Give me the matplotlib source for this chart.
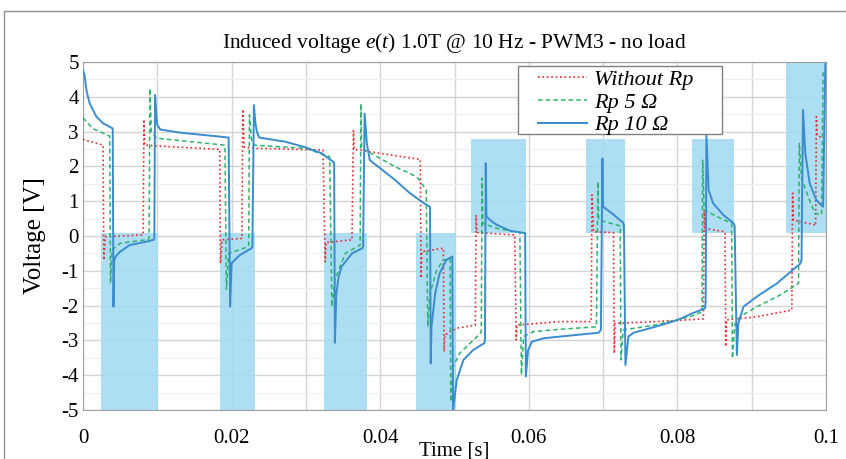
import numpy as np
import matplotlib.pyplot as plt
from matplotlib.patches import Rectangle
from matplotlib.ticker import MultipleLocator

plt.rcParams['font.family'] = ['Liberation Serif', 'DejaVu Serif']
plt.rcParams['mathtext.fontset'] = 'custom'
plt.rcParams['mathtext.rm'] = 'Liberation Serif'
plt.rcParams['mathtext.it'] = 'Liberation Serif:italic'

# time values below are in units of 10 ms, voltages in V
T_UNIT = 0.01

t_red = [0.0, 0.02, 0.27, 0.28, 0.30, 0.81, 0.82, 0.83, 1.31, 1.84, 1.85, 1.87, 2.14, 2.15, 2.17,
         2.31, 3.23, 3.26, 3.27, 3.62, 3.64, 3.65, 4.54, 4.55, 4.56, 4.85, 4.86, 4.87, 5.03, 5.28,
         5.29, 5.30, 5.81, 5.83, 5.84, 6.42, 6.84, 6.85, 6.87, 7.14, 7.15, 7.16, 7.70, 8.28, 8.35,
         8.36, 8.37, 8.64, 8.65, 8.66, 9.07, 9.54, 9.55, 9.56, 9.85, 9.86, 9.87, 9.88, 10.0]
v_red = [2.78, 2.76, 2.61, -0.69, -0.02, 0.03, 3.35, 2.61, 2.55, 2.49, -0.79, -0.11, -0.07, 3.64, 2.55,
         2.52, 2.47, -0.74, -0.19, -0.11, 3.03, 2.49, 2.20, -1.21, -0.45, -0.35, -3.32, -2.84, -2.65, -2.56,
         0.60, 0.10, 0.03, -2.99, -2.56, -2.46, -2.46, 1.18, 0.12, 0.10, -3.37, -2.51, -2.46, -2.39, -2.38,
         0.75, 0.22, 0.12, -3.18, -2.41, -2.32, -2.13, 1.23, 0.46, 0.32, 0.30, 3.43, 2.90, 2.76]

t_green = [0.0, 0.02, 0.13, 0.36, 0.37, 0.39, 0.50, 0.88, 0.89, 0.90, 0.92, 0.99, 1.91, 1.93, 1.96,
           2.22, 2.23, 2.24, 2.27, 2.31, 2.99, 3.32, 3.35, 3.39, 3.53, 3.73, 3.74, 3.75, 3.84, 4.20,
           4.40, 4.51, 4.54, 4.62, 4.64, 4.67, 4.76, 4.85, 4.94, 4.95, 4.98, 5.07, 5.21, 5.34, 5.36,
           5.37, 5.38, 5.57, 5.88, 5.90, 5.93, 6.06, 6.42, 6.91, 6.93, 6.94, 7.23, 7.24, 7.27, 7.70,
           8.06, 8.17, 8.33, 8.34, 8.36, 8.53, 8.73, 8.74, 8.77, 8.84, 9.07, 9.38, 9.63, 9.64, 9.67,
           9.76, 9.85, 9.94, 9.96, 10.0]
v_green = [3.40, 3.35, 3.09, 2.87, -1.36, -0.40, -0.21, -0.10, -0.05, 4.24, 3.00, 2.81, 2.61, -1.53, -0.50,
           -0.31, -0.25, 3.48, 2.71, 2.61, 2.52, 2.28, -2.03, -1.26, -0.50, -0.26, 3.81, 2.52, 2.42, 1.99,
           1.80, 1.66, 1.56, 1.32, -2.61, -1.65, -0.98, -0.69, -0.65, -4.76, -3.76, -3.37, -3.08, -2.82, -2.75,
           1.66, 0.36, 0.22, 0.10, -3.99, -2.89, -2.75, -2.68, -2.61, 1.56, 0.46, 0.29, -3.56, -2.70, -2.56,
           -2.37, -2.32, -2.18, 2.18, 0.75, 0.56, 0.36, -3.52, -2.56, -2.32, -2.03, -1.70, -1.36, 2.66, 1.66,
           1.13, 0.65, 0.62, 4.68, 4.70]

t_blue = [0.0, 0.02, 0.05, 0.09, 0.18, 0.27, 0.40, 0.41, 0.42, 0.45, 0.50, 0.63, 0.86, 0.95, 0.96,
          0.97, 0.99, 1.00, 1.04, 1.31, 1.96, 1.98, 2.00, 2.11, 2.27, 2.28, 2.30, 2.32, 2.34, 2.37,
          2.72, 2.99, 3.21, 3.38, 3.39, 3.41, 3.44, 3.48, 3.62, 3.76, 3.77, 3.79, 3.82, 3.86, 4.20,
          4.40, 4.59, 4.67, 4.68, 4.69, 4.74, 4.80, 4.89, 4.97, 4.98, 5.03, 5.12, 5.25, 5.40, 5.41,
          5.42, 5.43, 5.50, 5.57, 5.75, 5.95, 5.96, 5.99, 6.04, 6.20, 6.42, 6.94, 6.97, 6.99, 7.00,
          7.12, 7.27, 7.28, 7.30, 7.34, 7.41, 7.70, 8.01, 8.17, 8.37, 8.38, 8.39, 8.42, 8.48, 8.62,
          8.75, 8.77, 8.80, 8.82, 8.89, 9.07, 9.34, 9.65, 9.67, 9.69, 9.72, 9.78, 9.87, 9.96, 9.99,
          10.0]
v_blue = [4.75, 4.63, 4.15, 3.81, 3.43, 3.24, 3.09, -2.03, -0.69, -0.56, -0.45, -0.26, -0.16, -0.11, -0.05,
          4.05, 3.40, 3.19, 3.06, 2.97, 2.83, -2.03, -0.78, -0.55, -0.35, -0.30, 3.76, 3.25, 3.00, 2.83,
          2.71, 2.55, 2.38, 2.11, -3.07, -1.65, -1.18, -0.88, -0.50, -0.35, -0.30, 3.52, 2.66, 2.18, 1.61,
          1.23, 0.94, 0.84, -3.66, -2.61, -1.65, -1.07, -0.69, -0.59, -5.0, -4.14, -3.56, -3.28, -3.08, -3.00,
          2.09, 0.56, 0.42, 0.32, 0.15, 0.08, -4.04, -3.28, -3.04, -2.94, -2.89, -2.78, -2.70, 2.23, 0.84,
          0.65, 0.38, 0.30, -3.71, -2.89, -2.78, -2.61, -2.41, -2.25, -2.08, -1.90, 2.90, 1.32, 0.94, 0.60,
          0.38, 0.30, -3.42, -2.51, -2.03, -1.74, -1.36, -0.80, -0.70, 3.62, 2.38, 1.51, 1.03, 0.84, 4.90,
          5.00]

# shaded intervals (same time unit): start, end, low V, high V
shade_t0 = [0.24, 1.84, 3.24, 4.48, 5.22, 6.77, 8.20, 9.46]
shade_t1 = [1.01, 2.31, 3.82, 5.02, 5.96, 7.29, 8.76, 10.0]
shade_lo = [-5, -5, -5, -5, 0.1, 0.1, 0.1, 0.1]
shade_hi = [0.1, 0.1, 0.1, 0.1, 2.78, 2.78, 2.78, 5.0]

x_ticks = [0, 0.02, 0.04, 0.06, 0.08, 0.1]
x_tick_labels = ['0', '0.02', '0.04', '0.06', '0.08', '0.1']

fig = plt.figure(figsize=(8.46, 4.59), dpi=100)
ax = fig.add_axes([0.0981, 0.1068, 0.8783, 0.7581])

for a, b, lo, hi in zip(shade_t0, shade_t1, shade_lo, shade_hi):
    ax.add_patch(Rectangle((a * T_UNIT, lo), (b - a) * T_UNIT, hi - lo,
                           facecolor='#9fd9f1', alpha=0.85, edgecolor='none', zorder=1))

ax.plot(np.array(t_red) * T_UNIT, v_red, color='#e8262c', ls=':', lw=1.2, label='Without Rp', zorder=3)
ax.plot(np.array(t_green) * T_UNIT, v_green, color='#2db46a', ls=(0, (3, 2)), lw=1.1, label='Rp 5 Ω', zorder=3)
ax.plot(np.array(t_blue) * T_UNIT, v_blue, color='#3a8cce', ls='-', lw=1.4, label='Rp 10 Ω', zorder=4)

ax.set_xlim(0, 0.1)
ax.set_ylim(-5, 5)
ax.set_xticks(x_ticks)
ax.set_xticklabels(x_tick_labels)
ax.xaxis.set_minor_locator(MultipleLocator(0.01))
ax.set_yticks(range(-5, 6))
ax.set_yticklabels([str(v) for v in range(-5, 6)])
ax.yaxis.set_minor_locator(MultipleLocator(0.5))
ax.tick_params(which='both', length=0, labelsize=15)
ax.tick_params(axis='x', pad=14)
ax.tick_params(axis='y', pad=3)
ax.grid(which='major', color='#d4d4d4', lw=1, zorder=0)
ax.grid(which='minor', axis='x', color='#d4d4d4', lw=1, zorder=0)
ax.grid(which='minor', axis='y', color='#eeeeee', lw=0.8, zorder=0)
ax.set_axisbelow(True)
for s in ax.spines.values():
    s.set_color('#a0a0a0')

ax.set_title('Induced voltage $\\mathit{e(t)}$ 1.0T @ 10 Hz - PWM3 - no load', fontsize=15.5, pad=10)
ax.set_xlabel('Time [s]', fontsize=15)
ax.xaxis.set_label_coords(0.5, -0.09)
ax.set_ylabel('Voltage [V]', fontsize=18)
ax.yaxis.set_label_coords(-0.05, 0.5)

# legend frame drawn by hand (wide side padding, tight vertical padding)
ax.add_patch(Rectangle((0.5855, 0.7931), 0.2745, 0.1954, transform=ax.transAxes,
                       facecolor='white', edgecolor='#808080', lw=1, zorder=6))
leg = ax.legend(loc='upper left', bbox_to_anchor=(0.612, 0.979), borderaxespad=0, borderpad=0,
                prop={'family': 'Liberation Serif', 'style': 'italic', 'size': 16},
                handlelength=2.2, handletextpad=0.35, frameon=False, labelspacing=0.1)
leg.set_zorder(7)

# outer frame of the picture
fig.patches.append(Rectangle((0.005, -0.1), 1.2, 1.076, transform=fig.transFigure,
                             fill=False, edgecolor='#909090', lw=1))

fig.savefig('out.png', dpi=100)
